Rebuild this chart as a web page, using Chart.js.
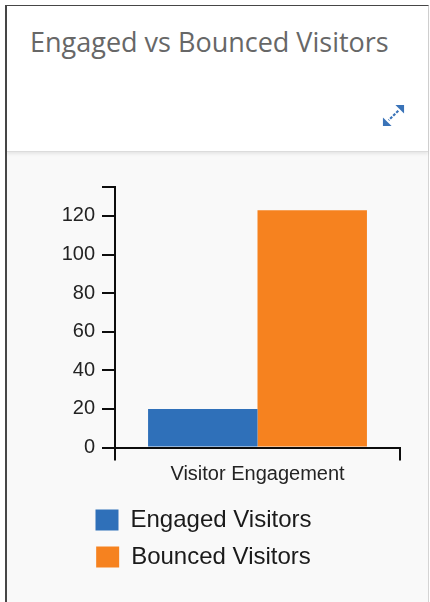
<!DOCTYPE html>
<html>
<head>
<meta charset="utf-8">
<script src="https://cdn.jsdelivr.net/npm/chart.js@4.4.1/dist/chart.umd.min.js"></script>
<style>
  html, body { margin: 0; padding: 0; background: #ffffff; width: 430px; height: 602px; overflow: hidden; }
  .card {
    position: absolute; left: 5px; top: 5px; width: 421px; height: 620px;
    border-left: 2px solid #474747; border-top: 1px solid #474747; border-right: 1px solid #d4d4d4;
    background: #f9f9f9;
  }
  .card-head {
    position: absolute; left: 0; top: 0; width: 421px; height: 145px;
    background: #ffffff; border-bottom: 1px solid #dcdcdc;
    box-shadow: 0 2px 3px rgba(0,0,0,0.08);
  }
  .card-title {
    position: absolute; left: 23px; top: 22px; margin: 0;
    font-family: 'Open Sans', sans-serif; font-weight: 400; font-size: 27px; line-height: 27px;
    color: #676767; white-space: nowrap;
  }
  .expand { position: absolute; left: 375px; top: 98px; width: 23px; height: 23px; }
  #chart { position: absolute; left: 7px; top: 152px; }
</style>
</head>
<body>
<div class="card">
  <div class="card-head">
    <h2 class="card-title">Engaged vs Bounced Visitors</h2>
    <svg class="expand" viewBox="0 0 24 24">
      <g fill="#3a73b8" stroke="#3a73b8">
        <path d="M23 1 L23 10 L14 1 Z" stroke="none"/>
        <path d="M1 23 L1 14 L10 23 Z" stroke="none"/>
        <line x1="17" y1="7" x2="7" y2="17" stroke-width="2.2" stroke-dasharray="3 1.5"/>
      </g>
    </svg>
  </div>
</div>
<canvas id="chart" width="420" height="450"></canvas>
<script>
// Chart values
const categories = ['Visitor Engagement'];
const seriesNames = ['Engaged Visitors', 'Bounced Visitors'];
const engagedValues = [20];
const bouncedValues = [123];
const seriesColors = ['#2f70b9', '#f6821f'];
const yTickValues = [0, 20, 40, 60, 80, 100, 120];
const yAxisMax = 135;

Chart.defaults.font.family = "'Liberation Sans', Arial, Helvetica, sans-serif";
Chart.defaults.color = '#1e1e1e';

const axisColor = '#0d0d0d';

new Chart(document.getElementById('chart'), {
  type: 'bar',
  data: {
    labels: categories,
    datasets: [
      { label: seriesNames[0], data: engagedValues, backgroundColor: seriesColors[0], borderWidth: 0 },
      { label: seriesNames[1], data: bouncedValues, backgroundColor: seriesColors[1], borderWidth: 0 }
    ]
  },
  options: {
    responsive: false,
    devicePixelRatio: 1,
    animation: false,
    events: [],
    layout: { padding: { top: 35, right: 27, bottom: 23, left: 0 } },
    datasets: { bar: { barPercentage: 1.0, categoryPercentage: 0.768 } },
    scales: {
      x: {
        offset: true,
        grid: { offset: true, drawOnChartArea: false, drawTicks: true, tickLength: 13, color: axisColor, lineWidth: 2 },
        border: { display: true, color: axisColor, width: 2 },
        ticks: { font: { size: 20 }, color: '#232323', padding: 2, maxRotation: 0 },
        afterFit: (scale) => { scale.height = 47.5; }
      },
      y: {
        min: 0,
        max: yAxisMax,
        grid: { drawOnChartArea: false, drawTicks: true, tickLength: 13, color: axisColor, lineWidth: 2 },
        border: { display: true, color: axisColor, width: 2 },
        ticks: {
          font: { size: 20 }, color: '#232323', padding: 7,
          callback: (v) => (yTickValues.includes(v) ? String(v) : '')
        },
        afterBuildTicks: (scale) => {
          scale.ticks = yTickValues.concat([yAxisMax]).map((v) => ({ value: v }));
        },
        afterFit: (scale) => { scale.width = 108; }
      }
    },
    plugins: {
      tooltip: { enabled: false },
      legend: {
        position: 'bottom',
        labels: {
          font: { size: 24 }, color: '#1a1a1a',
          boxWidth: 23, boxHeight: 21, padding: 13
        }
      }
    }
  }
});
</script>
</body>
</html>
